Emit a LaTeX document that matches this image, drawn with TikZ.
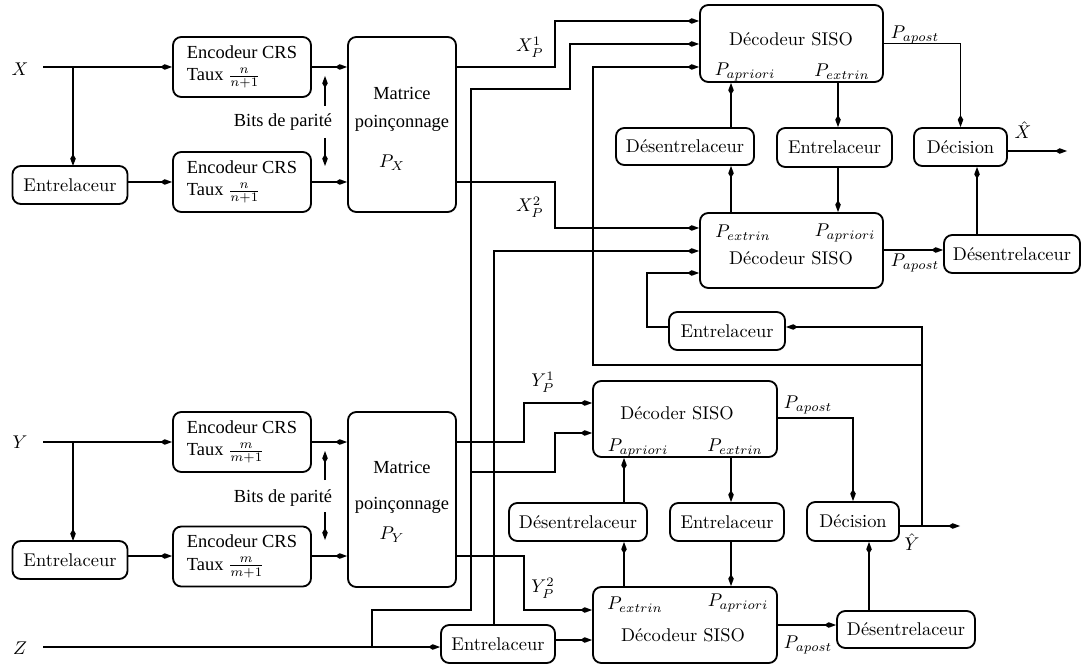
\documentclass[tikz,border=0pt]{standalone}
\usepackage{fontspec}
\newfontfamily\tms{Liberation Serif}
\usetikzlibrary{arrows.meta}

\begin{document}
\begin{tikzpicture}[x=0.5427pt, y=-0.5427pt, line width=1pt,
    >={Kite[length=6.5pt,width=3pt,inset=2.5pt]},
    bx/.style={draw, rounded corners=4.5pt, inner sep=0pt},
    sz/.style 2 args={minimum width=#1*0.5427pt, minimum height=#2*0.5427pt},
    enc/.style={bx, sz={138}{60}, align=left, font=\tms}]
    \useasboundingbox (0,0) rectangle (1081,664);

    % entrees
    \node (xlab) at (20,69) {$X$};
    \node (ylab) at (20,442) {$Y$};
    \node (zlab) at (20,648) {$Z$};
    \coordinate (xin) at (43,67);
    \coordinate (yin) at (43,442);
    \coordinate (zin) at (43,647);

    % codeur X
    \node[enc] (encX1) at (242,67) {Encodeur CRS\\Taux $\frac{n}{n+1}$};
    \node[enc] (encX2) at (242,182) {Encodeur CRS\\Taux $\frac{n}{n+1}$};
    \node[bx, sz={115}{38}] (intX) at (70,185) {Entrelaceur};
    \node[bx, sz={108}{175}] (matX) at (402,124.5) {};
    \node[font=\tms] (matX1) at (402,93) {Matrice};
    \node[font=\tms] (matX2) at (402,123) {poinçonnage};
    \node (matX3) at (392,163) {$P_X$};
    \node[font=\tms] (bitsX) at (283,122) {Bits de parité};

    % codeur Y
    \node[enc] (encY1) at (242,442) {Encodeur CRS\\Taux $\frac{m}{m+1}$};
    \node[enc] (encY2) at (242,556.5) {Encodeur CRS\\Taux $\frac{m}{m+1}$};
    \node[bx, sz={115}{38}] (intY) at (70,560) {Entrelaceur};
    \node[bx, sz={108}{175}] (matY) at (402,499.5) {};
    \node[font=\tms] (matY1) at (402,467) {Matrice};
    \node[font=\tms] (matY2) at (402,505) {poinçonnage};
    \node (matY3) at (392,535) {$P_Y$};
    \node[font=\tms] (bitsY) at (283,498) {Bits de parité};

    % decodeur X
    \node[bx, sz={183}{77}] (siso1) at (791.5,43.5) {};
    \node (siso1a) at (791,39) {Décodeur SISO};
    \node (siso1b) at (745,72) {$P_{apriori}$};
    \node (siso1c) at (842,72) {$P_{extrin}$};
    \node[bx, sz={183}{75}] (siso2) at (791.5,250.5) {};
    \node (siso2a) at (743,233) {$P_{extrin}$};
    \node (siso2b) at (845,233) {$P_{apriori}$};
    \node (siso2c) at (791,258) {Décodeur SISO};
    \node[bx, sz={138}{37}] (deintX) at (685,146.5) {Désentrelaceur};
    \node[bx, sz={115}{39}] (intX2) at (834.5,147.5) {Entrelaceur};
    \node[bx, sz={93}{38}] (decX) at (960.5,147) {Décision};
    \node[bx, sz={136}{38}] (deintX2) at (1012,254) {Désentrelaceur};
    \node[bx, sz={116}{38}] (intfb) at (727,331) {Entrelaceur};

    % decodeur Y
    \node[bx, sz={184}{76}] (siso3) at (685,419) {};
    \node (siso3a) at (677,413) {Décoder SISO};
    \node (siso3b) at (638,448) {$P_{apriori}$};
    \node (siso3c) at (735,447) {$P_{extrin}$};
    \node[bx, sz={184}{76}] (siso4) at (685,625) {};
    \node (siso4a) at (635,605) {$P_{extrin}$};
    \node (siso4b) at (738,603) {$P_{apriori}$};
    \node (siso4c) at (683,635) {Décodeur SISO};
    \node[bx, sz={138}{38}] (deintY) at (578,522) {Désentrelaceur};
    \node[bx, sz={114}{38}] (intY2) at (727,522) {Entrelaceur};
    \node[bx, sz={92}{39}] (decY) at (853,521.5) {Décision};
    \node[bx, sz={138}{37}] (deintY2) at (906,629.5) {Désentrelaceur};
    \node[bx, sz={114}{38}] (intZ) at (498,644) {Entrelaceur};

    % etiquettes
    \node (xp1) at (530,47) {$X_P^1$};
    \node (xp2) at (530,207) {$X_P^2$};
    \node (yp1) at (543,382) {$Y_P^1$};
    \node (yp2) at (543,588) {$Y_P^2$};
    \node (apo1) at (915,35) {$P_{apost}$};
    \node (apo2) at (915,263) {$P_{apost}$};
    \node (apo3) at (808,405) {$P_{apost}$};
    \node (apo4) at (808,645) {$P_{apost}$};
    \node (xhat) at (1023,130) {$\hat{X}$};
    \node (yhat) at (912,542) {$\hat{Y}$};

    % codeur X
    \draw[->] (xin) -- (encX1.west);
    \draw[->] (73,67) -- (73,166);
    \draw[->] (intX.east |- 0,182) -- (encX2.west);
    \draw[->] (encX1.east) -- (matX.west |- encX1.east);
    \draw[->] (encX2.east) -- (matX.west |- encX2.east);
    \draw[->] (325,106) -- (325,76);
    \draw[->] (325,138) -- (325,166);
    \draw[->] (matX.east |- 0,67) -- (555,67) |- (siso1.west |- 0,21);
    \draw[->] (matX.east |- 0,182) -- (555,182) |- (siso2.west |- 0,228);

    % codeur Y
    \draw[->] (yin) -- (encY1.west);
    \draw[->] (73,442) -- (73,541);
    \draw[->] (intY.east |- 0,556) -- (encY2.west |- 0,556);
    \draw[->] (encY1.east) -- (matY.west |- encY1.east);
    \draw[->] (encY2.east |- 0,556) -- (matY.west |- 0,556);
    \draw[->] (325,480) -- (325,451);
    \draw[->] (325,512) -- (325,540);
    \draw[->] (matY.east |- 0,442) -- (524,442) |- (siso3.west |- 0,403);
    \draw[->] (matY.east |- 0,556) -- (524,556) |- (siso4.west |- 0,610);

    % Z
    \draw[->] (zin) -- (intZ.west |- zin);
    \draw[->] (372,647) -- (372,610) -- (471,610) -- (471,89) -- (570,89) |- (siso1.west |- 0,44);
    \draw[->] (471,472) -- (555,472) |- (siso3.west |- 0,433);
    \draw[->] (intZ.north -| 494,0) -- (494,251) -- (siso2.west |- 0,251);
    \draw[->] (intZ.east |- 0,640) -- (siso4.west |- 0,640);

    % boucle X
    \draw[->] (deintX.north -| 731,0) -- (siso1.south -| 731,0);
    \draw[->] (siso2.north -| 731,0) -- (deintX.south -| 731,0);
    \draw[->] (siso1.south -| 838,0) -- (intX2.north -| 838,0);
    \draw[->] (intX2.south -| 838,0) -- (siso2.north -| 838,0);
    \draw[->] (siso1.east) -| (decX.north);
    \draw[->] (decX.east |- 0,151) -- (1067,151);
    \draw[->] (siso2.east |- 0,250) -- (deintX2.west |- 0,250);
    \draw[->] (deintX2.north -| 977,0) -- (decX.south -| 977,0);

    % boucle Y
    \draw[->] (deintY.north -| 624,0) -- (siso3.south -| 624,0);
    \draw[->] (siso4.north -| 624,0) -- (deintY.south -| 624,0);
    \draw[->] (siso3.south -| 731,0) -- (intY2.north -| 731,0);
    \draw[->] (intY2.south -| 731,0) -- (siso4.north -| 731,0);
    \draw[->] (siso3.east |- 0,418) -| (decY.north);
    \draw[->] (siso4.east |- 0,625) -- (deintY2.west |- 0,625);
    \draw[->] (deintY2.north -| 869,0) -- (decY.south -| 869,0);

    % retour
    \draw[->] (decY.east |- 0,526) -- (960,526);
    \draw[->] (922,526) -- (922,327) -- (intfb.east |- 0,327);
    \draw[->] (922,365) -- (593,365) -- (593,67) -- (siso1.west |- 0,67);
    \draw[->] (intfb.west |- 0,327) -- (647,327) |- (siso2.west |- 0,273);
\end{tikzpicture}
\end{document}
